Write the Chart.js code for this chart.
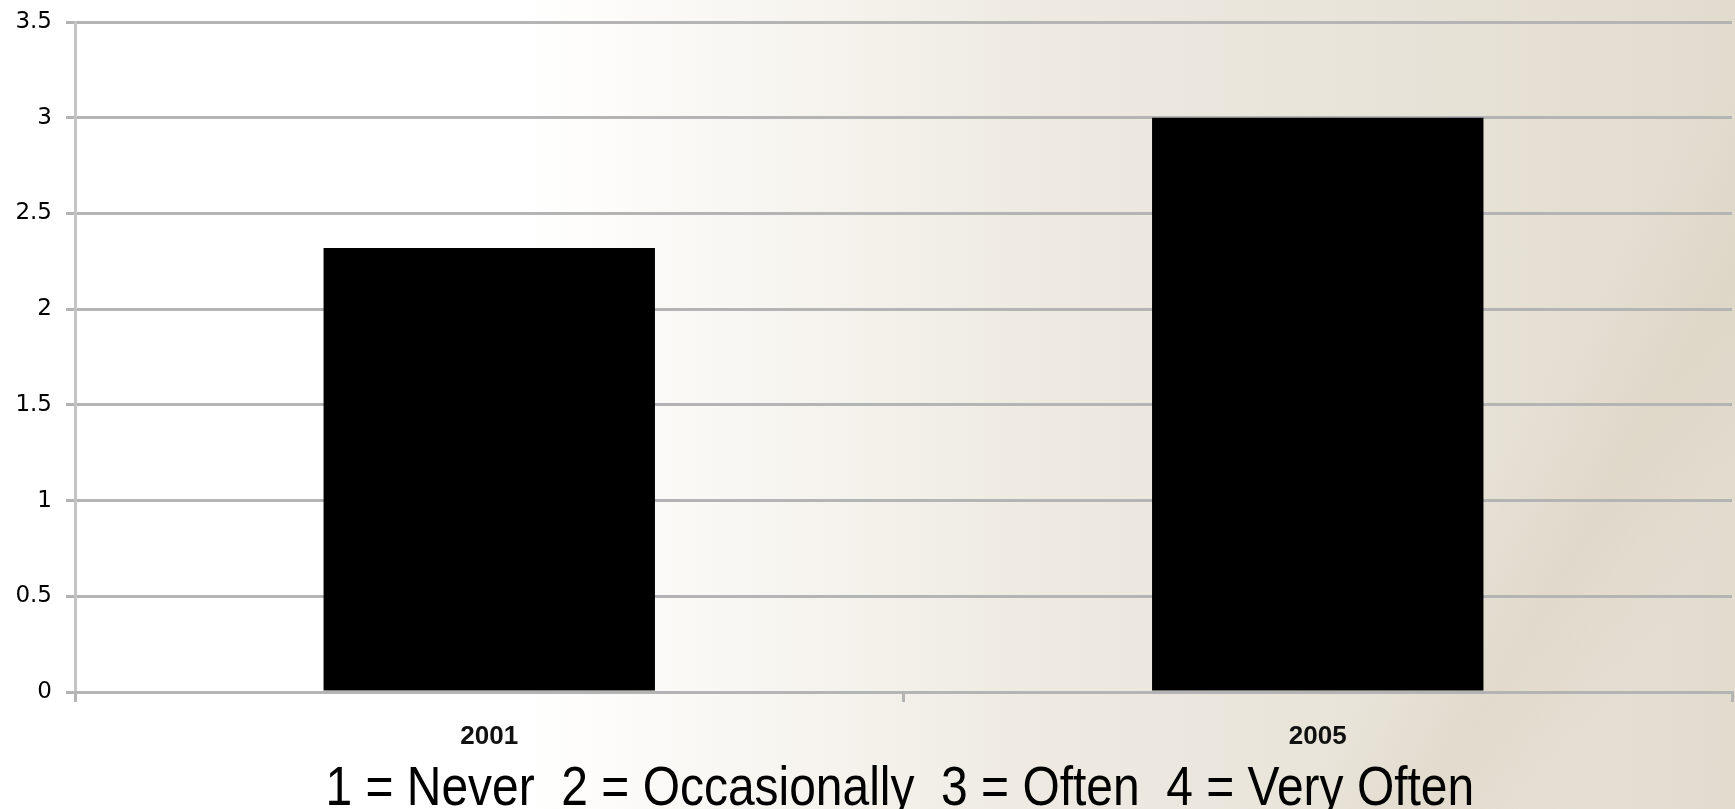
<!DOCTYPE html>
<html>
<head>
<meta charset="utf-8">
<script src="https://cdn.jsdelivr.net/npm/chart.js@4"></script>
<style>
  html,body{margin:0;padding:0;width:1735px;height:809px;overflow:hidden;}
  body{
    position:relative;
    background:
      linear-gradient(120deg, rgba(255,255,255,0) 80%, rgba(210,200,178,.25) 86%, rgba(255,255,255,0) 92%),
      linear-gradient(90deg,#ffffff 0%,#ffffff 30%,#f7f5f0 45%,#eeeae2 60%,#e8e3d8 80%,#e2dccf 100%);
    font-family:"Liberation Sans",Arial,sans-serif;
  }
  #chart{position:absolute;left:0;top:0;}
  #note{
    position:absolute;top:758px;left:0;
    font-size:56px;line-height:1;white-space:pre;color:#000;
  }
</style>
</head>
<body>
<canvas id="chart" width="1735" height="809"></canvas>
<div id="note">1 = Never  2 = Occasionally  3 = Often  4 = Very Often</div>
<script>
/* ====== DATA ====== */
const years  = ['2001','2005'];
const scores = [2.32, 3.0];
const yTicks = [0,0.5,1,1.5,2,2.5,3,3.5];

/* ====== NOTE TEXT (condensed, centred on x=900) ====== */
const note = document.getElementById('note');
const w = note.offsetWidth;
note.style.left = (900 - w/2) + 'px';
note.style.transformOrigin = `${w/2}px 0`;
note.style.transform = `scaleX(${1149/w})`;

/* ====== CHART ====== */
const GRID = '#b4b4b4';
new Chart(document.getElementById('chart').getContext('2d'),{
  type:'bar',
  data:{labels:years,datasets:[{
    data:scores,
    backgroundColor:'#000',
    borderWidth:0,
    barPercentage:0.4,
    categoryPercentage:1.0
  }]},
  options:{
    responsive:false,
    animation:false,
    layout:{padding:{top:22,right:3,left:0,bottom:0}},
    plugins:{legend:{display:false},tooltip:{enabled:false}},
    scales:{
      y:{
        min:0,max:3.5,
        afterBuildTicks:s=>{ s.ticks=yTicks.map(v=>({value:v})); },
        afterFit:s=>{ s.width=75; s.paddingTop=0; s.paddingBottom=0; },
        ticks:{color:'#000',padding:14,font:{family:'"DejaVu Sans"',size:23},
          callback:v=>String(v)},
        grid:{color:GRID,lineWidth:3,tickLength:9},
        border:{color:'#c4c4c4',width:3}
      },
      x:{
        afterFit:s=>{ s.height=117; },
        ticks:{color:'#111',padding:19,font:{family:'"Liberation Sans",Arial',size:26,weight:'bold'}},
        grid:{drawOnChartArea:false,drawTicks:true,tickLength:10,color:GRID,lineWidth:3},
        border:{color:GRID,width:3}
      }
    }
  }
});
</script>
</body>
</html>
